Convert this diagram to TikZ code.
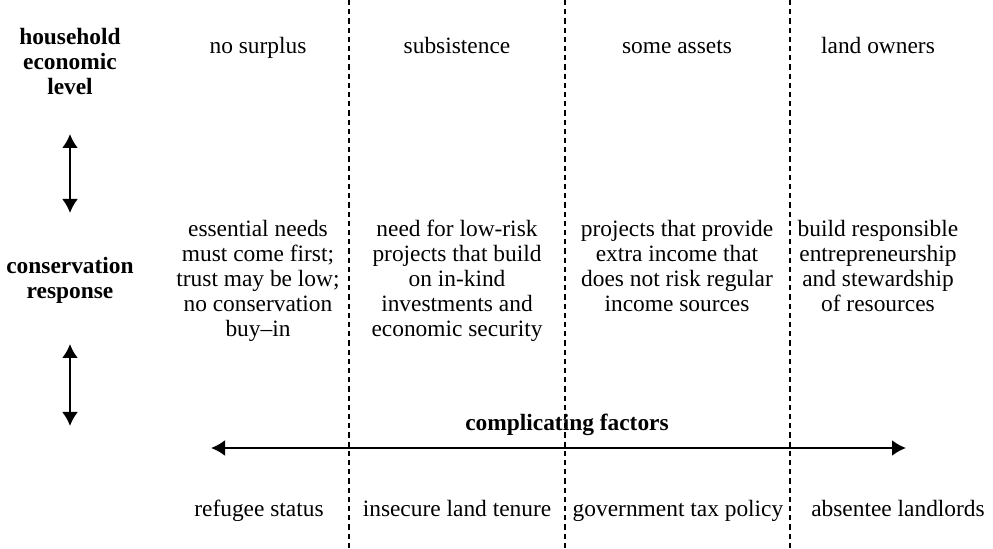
\documentclass[tikz,border=0pt]{standalone}
\usepackage{fontspec}
\setmainfont{Liberation Serif}
\usetikzlibrary{arrows.meta}
\tikzset{
  divider/.style={line width=0.6pt, dash pattern=on 2.6pt off 2pt},
  dblarrow/.style={line width=1.1pt, {Latex[length=7pt,width=8pt]}-{Latex[length=7pt,width=8pt]}},
  lbl/.style={anchor=base, inner sep=0pt, font=\fontsize{11.7}{12.5}\selectfont},
  hdr/.style={lbl, font=\fontsize{11.7}{12.5}\selectfont\bfseries}
}
\newcommand{\stack}[1]{\begin{tabular}[t]{@{}c@{}}#1\end{tabular}}
\begin{document}
\begin{tikzpicture}[x=0.5pt,y=-0.5pt]
\useasboundingbox (0,0) rectangle (993,549);
% dividers
\coordinate (d1t) at (349,0); \coordinate (d1b) at (349,549);
\coordinate (d2t) at (565,0); \coordinate (d2b) at (565,549);
\coordinate (d3t) at (790,0); \coordinate (d3b) at (790,549);
\draw[divider] (d1t) -- (d1b);
\draw[divider] (d2t) -- (d2b);
\draw[divider] (d3t) -- (d3b);
% left labels
\node[hdr] (hel) at (70,45) {\stack{household\\economic\\level}};
\node[hdr] (cr) at (70,274) {\stack{conservation\\response}};
% vertical arrows
\coordinate (a1t) at (70,134); \coordinate (a1b) at (70,213);
\coordinate (a2t) at (70,344); \coordinate (a2b) at (70,426);
\draw[dblarrow] (a1t) -- (a1b);
\draw[dblarrow] (a2t) -- (a2b);
% top row
\node[lbl] (t1) at (258,54) {no surplus};
\node[lbl] (t2) at (457,54) {subsistence};
\node[lbl] (t3) at (677,54) {some assets};
\node[lbl] (t4) at (878,54) {land owners};
% middle row
\node[lbl] (m1) at (258,237) {\stack{essential needs\\must come first;\\trust may be low;\\no conservation\\buy--in}};
\node[lbl] (m2) at (457,237) {\stack{need for low-risk\\projects that build\\on in-kind\\investments and\\economic security}};
\node[lbl] (m3) at (677,237) {\stack{projects that provide\\extra income that\\does not risk regular\\income sources}};
\node[lbl] (m4) at (878,237) {\stack{build responsible\\entrepreneurship\\and stewardship\\of resources}};
% complicating factors
\node[hdr] (cf) at (567,431) {complicating factors};
\coordinate (hl) at (211,448); \coordinate (hr) at (906,448);
\draw[dblarrow] (hl) -- (hr);
% bottom row
\node[lbl] (b1) at (259,517) {refugee status};
\node[lbl] (b2) at (457,517) {insecure land tenure};
\node[lbl] (b3) at (678,517) {government tax policy};
\node[lbl] (b4) at (898,517) {absentee landlords};
\end{tikzpicture}
\end{document}
